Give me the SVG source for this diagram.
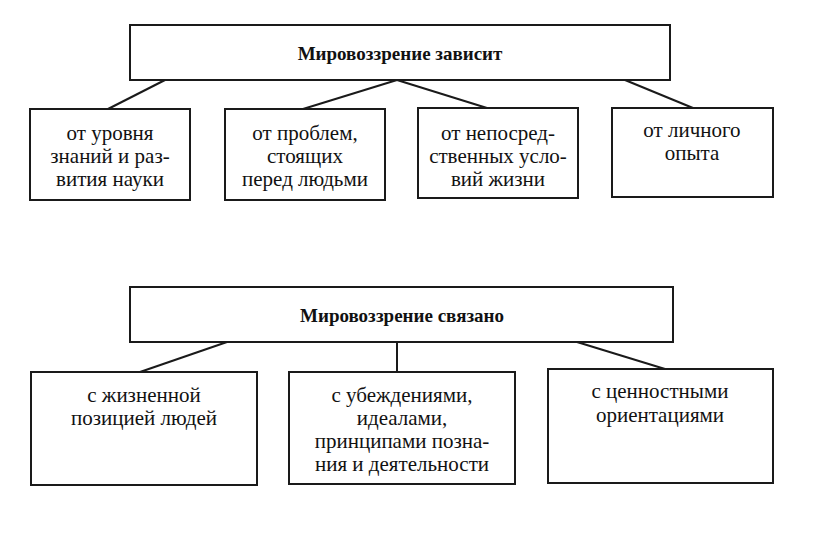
<svg xmlns="http://www.w3.org/2000/svg" width="816" height="540" viewBox="0 0 816 540">
<style>
.box{fill:#fff;stroke:#1a1a1a;stroke-width:2}
.ln{stroke:#1a1a1a;stroke-width:2;fill:none}
.t{font-family:'Liberation Serif','Times New Roman','DejaVu Serif',serif;font-size:21px;fill:#111;text-anchor:middle}
.h{font-family:'Liberation Serif','Times New Roman','DejaVu Serif',serif;font-size:19px;font-weight:bold;fill:#111;text-anchor:middle}
</style>
<rect width="816" height="540" fill="#fff"/>
<g id="connectors">
<line class="ln" x1="165" y1="80" x2="108" y2="109"/>
<line class="ln" x1="397" y1="80" x2="303" y2="109"/>
<line class="ln" x1="397" y1="80" x2="487" y2="108"/>
<line class="ln" x1="625" y1="80" x2="693" y2="108"/>
<line class="ln" x1="227" y1="342" x2="140" y2="372"/>
<line class="ln" x1="397" y1="342" x2="397" y2="372"/>
<line class="ln" x1="577" y1="342" x2="665" y2="369"/>
</g>
<g id="top1">
<rect class="box" x="130" y="25" width="540" height="55"/>
<text class="h" x="400" y="60">Мировоззрение зависит</text>
</g>
<g id="n1">
<rect class="box" x="30" y="109" width="160" height="91"/>
<text class="t" x="110" y="140">от уровня</text>
<text class="t" x="110" y="163">знаний и раз-</text>
<text class="t" x="110" y="186">вития науки</text>
</g>
<g id="n2">
<rect class="box" x="225" y="109" width="160" height="91"/>
<text class="t" x="305" y="140">от проблем,</text>
<text class="t" x="305" y="163">стоящих</text>
<text class="t" x="305" y="186">перед людьми</text>
</g>
<g id="n3">
<rect class="box" x="418" y="108" width="160" height="90"/>
<text class="t" x="498" y="140">от непосред-</text>
<text class="t" x="498" y="163">ственных усло-</text>
<text class="t" x="498" y="186">вий жизни</text>
</g>
<g id="n4">
<rect class="box" x="612" y="108" width="161" height="89"/>
<text class="t" x="692" y="137">от личного</text>
<text class="t" x="692" y="160">опыта</text>
</g>
<g id="top2">
<rect class="box" x="130" y="287" width="543" height="55"/>
<text class="h" x="402" y="322">Мировоззрение связано</text>
</g>
<g id="m1">
<rect class="box" x="31" y="372" width="226" height="113"/>
<text class="t" x="144" y="402">с жизненной</text>
<text class="t" x="144" y="425">позицией людей</text>
</g>
<g id="m2">
<rect class="box" x="289" y="372" width="226" height="112"/>
<text class="t" x="402" y="402">с убеждениями,</text>
<text class="t" x="402" y="425">идеалами,</text>
<text class="t" x="402" y="448">принципами позна-</text>
<text class="t" x="402" y="471">ния и деятельности</text>
</g>
<g id="m3">
<rect class="box" x="548" y="369" width="225" height="114"/>
<text class="t" x="660" y="398">с ценностными</text>
<text class="t" x="660" y="422">ориентациями</text>
</g>
</svg>
